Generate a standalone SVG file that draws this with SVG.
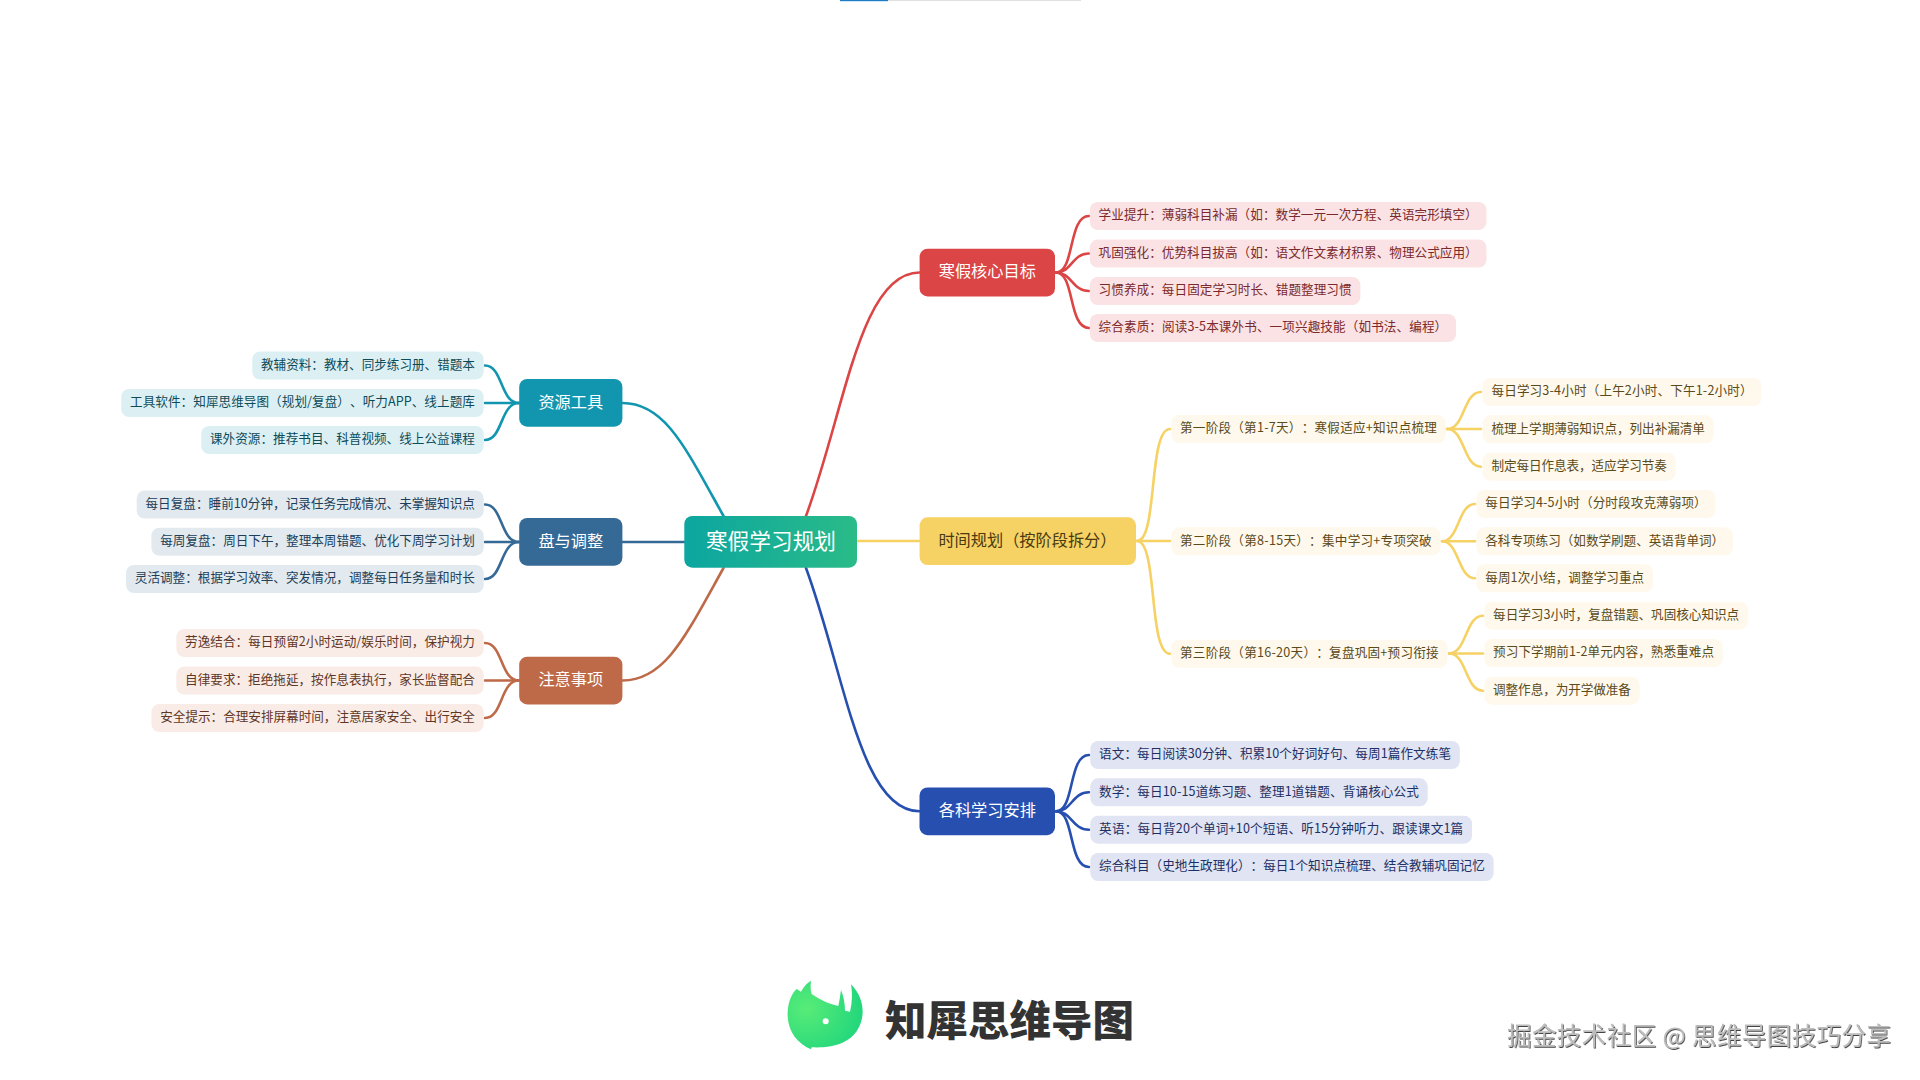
<svg xmlns="http://www.w3.org/2000/svg" width="1920" height="1080" viewBox="0 0 1920 1080">
<style>
text{font-family:"Noto Sans CJK SC","Liberation Sans",sans-serif;dominant-baseline:central;transform:translateY(-1.2px);text-spacing-trim:space-all}
.b{font-size:16.2px;text-anchor:middle;fill:#fff}
.l{font-size:12.6px}
.c{fill:none;stroke-width:2.6;stroke-linecap:round}
.tc{fill:#dcf0f4}.tc+text{fill:#0e4b58}
.sl{fill:#e2e9ef}.sl+text{fill:#203e58}
.pc{fill:#f9ece7}.pc+text{fill:#5f3626}
.rd{fill:#fbe3e5}.rd+text{fill:#7a2a2c}
.yl{fill:#fef9ec}.yl+text{fill:#5b4a1a}
.bl{fill:#e0e4f3}.bl+text{fill:#1d2f63}
</style>
<defs>
<linearGradient id="mg" x1="0" y1="0" x2="1" y2="0"><stop offset="0" stop-color="#0ca6a0"/><stop offset="1" stop-color="#2abb88"/></linearGradient>
<radialGradient id="lg" cx="0.25" cy="0.4" r="0.85"><stop offset="0" stop-color="#58ec78"/><stop offset="1" stop-color="#1cd47c"/></radialGradient>
<filter id="em" x="-5%" y="-20%" width="110%" height="140%"><feDropShadow dx="0.8" dy="1" stdDeviation="0.3" flood-color="#444"/></filter>
</defs>
<rect width="1920" height="1080" fill="#fff"/>
<rect x="840" y="0" width="241" height="1" fill="#e0e0e0"/>
<rect x="840" y="0" width="48" height="1.2" fill="#1e7fc8"/>
<g id="connectors">
<g stroke="#1296b0" class="c"><path class="c" d="M622.4,403C665,403 685,447 723.5,516"/><path class="c" d="M519,403C500,403 503,365.5 485,365.5"/><path class="c" d="M519,403H485"/><path class="c" d="M519,403C500,403 503,440 485,440"/></g>
<g stroke="#366a96"><path class="c" d="M622.4,542H684.5"/><path class="c" d="M519,542C500,542 503,504.5 485,504.5"/><path class="c" d="M519,542H485"/><path class="c" d="M519,542C500,542 503,579 485,579"/></g>
<g stroke="#be6a48"><path class="c" d="M622.4,680.5C665,680.5 685,637 723.5,568"/><path class="c" d="M519,680.5C500,680.5 503,643 485,643"/><path class="c" d="M519,680.5H485"/><path class="c" d="M519,680.5C500,680.5 503,718 485,718"/></g>
<g stroke="#db4545"><path class="c" d="M806,516C845,410 860,272.5 919.6,272.5"/><path class="c" d="M1056,272.5C1075,272.5 1068,216 1089,216"/><path class="c" d="M1056,272.5C1072,272.5 1072,253.5 1089,253.5"/><path class="c" d="M1056,272.5C1072,272.5 1072,291 1089,291"/><path class="c" d="M1056,272.5C1075,272.5 1068,328 1089,328"/></g>
<g stroke="#f6d164"><path class="c" d="M857,541H919.6"/><path class="c" d="M1137,541C1158,541 1148,429 1170,429"/><path class="c" d="M1137,541H1170"/><path class="c" d="M1137,541C1158,541 1148,653.7 1170,653.7"/><path class="c" d="M1447,429C1465,429 1463,392 1481,392"/><path class="c" d="M1447,429H1481"/><path class="c" d="M1447,429C1465,429 1463,466.7 1481,466.7"/><path class="c" d="M1442,541.3C1459,541.3 1458,504 1475,504"/><path class="c" d="M1442,541.3H1475"/><path class="c" d="M1442,541.3C1459,541.3 1458,578.3 1475,578.3"/><path class="c" d="M1449,653.5C1467,653.5 1465,615.7 1483,615.7"/><path class="c" d="M1449,653.5H1483"/><path class="c" d="M1449,653.5C1467,653.5 1465,690.7 1483,690.7"/></g>
<g stroke="#274fb0"><path class="c" d="M806,568C845,674 860,811.3 919.5,811.3"/><path class="c" d="M1056,811.3C1075,811.3 1068,755 1089,755"/><path class="c" d="M1056,811.3C1072,811.3 1072,792.3 1089,792.3"/><path class="c" d="M1056,811.3C1072,811.3 1072,829.7 1089,829.7"/><path class="c" d="M1056,811.3C1075,811.3 1068,867 1089,867"/></g>
</g>
<g id="root"><rect x="684.3" y="516" width="172.7" height="51.7" rx="8" fill="url(#mg)"/><text x="771" y="540.3" font-size="21.7" text-anchor="middle" fill="#fff">寒假学习规划</text></g>
<g id="n-res"><rect x="519.2" y="379" width="103.2" height="47.7" rx="8" fill="#1296b0"/><text class="b" x="570.8" y="402">资源工具</text></g>
<g id="n-rev"><rect x="519.2" y="518" width="103.2" height="47.7" rx="8" fill="#366a96"/><text class="b" x="570.8" y="541">盘与调整</text></g>
<g id="n-note"><rect x="519.2" y="656.7" width="103.2" height="47.7" rx="8" fill="#be6a48"/><text class="b" x="570.8" y="679.5">注意事项</text></g>
<g id="n-goal"><rect x="919.6" y="248.7" width="135.4" height="47.7" rx="8" fill="#db4545"/><text class="b" x="987.3" y="271.5">寒假核心目标</text></g>
<g id="n-time"><rect x="919.6" y="517.3" width="216.4" height="47.7" rx="8" fill="#f6d164"/><text class="b" x="938.4" y="540" style="text-anchor:start;fill:#4a3a10">时间规划（按阶段拆分）</text></g>
<g id="n-subj"><rect x="919.5" y="787.4" width="135.5" height="47.8" rx="8" fill="#274fb0"/><text class="b" x="987.3" y="810.3">各科学习安排</text></g>
<g id="res-1"><rect class="tc" x="252.2" y="351.5" width="231.5" height="28" rx="8"/><text class="l" x="261" y="364.5" textLength="213.9">教辅资料：教材、同步练习册、错题本</text></g>
<g id="res-2"><rect class="tc" x="121.2" y="389" width="362.5" height="28" rx="8"/><text class="l" x="130" y="402" textLength="344.9">工具软件：知犀思维导图（规划/复盘）、听力APP、线上题库</text></g>
<g id="res-3"><rect class="tc" x="201.2" y="426" width="282.5" height="28" rx="8"/><text class="l" x="210" y="439" textLength="264.9">课外资源：推荐书目、科普视频、线上公益课程</text></g>
<g id="rev-1"><rect class="sl" x="136.7" y="490.5" width="347" height="28" rx="8"/><text class="l" x="145.5" y="503.5" textLength="329.4">每日复盘：睡前10分钟，记录任务完成情况、未掌握知识点</text></g>
<g id="rev-2"><rect class="sl" x="151.4" y="527.7" width="332.3" height="28" rx="8"/><text class="l" x="160.2" y="540.7" textLength="314.7">每周复盘：周日下午，整理本周错题、优化下周学习计划</text></g>
<g id="rev-3"><rect class="sl" x="126" y="565" width="357.7" height="28" rx="8"/><text class="l" x="134.8" y="578" textLength="340.1">灵活调整：根据学习效率、突发情况，调整每日任务量和时长</text></g>
<g id="note-1"><rect class="pc" x="176.3" y="629" width="307.4" height="28" rx="8"/><text class="l" x="185.1" y="642" textLength="289.8">劳逸结合：每日预留2小时运动/娱乐时间，保护视力</text></g>
<g id="note-2"><rect class="pc" x="176.3" y="666.5" width="307.4" height="28" rx="8"/><text class="l" x="185.1" y="679.5" textLength="289.8">自律要求：拒绝拖延，按作息表执行，家长监督配合</text></g>
<g id="note-3"><rect class="pc" x="151.4" y="704" width="332.3" height="28" rx="8"/><text class="l" x="160.2" y="717" textLength="314.7">安全提示：合理安排屏幕时间，注意居家安全、出行安全</text></g>
<g id="goal-1"><rect class="rd" x="1089.8" y="202" width="396.7" height="28" rx="8"/><text class="l" x="1098.6" y="215" textLength="379.1">学业提升：薄弱科目补漏（如：数学一元一次方程、英语完形填空）</text></g>
<g id="goal-2"><rect class="rd" x="1089.8" y="239.5" width="396.7" height="28" rx="8"/><text class="l" x="1098.6" y="252.5" textLength="379.1">巩固强化：优势科目拔高（如：语文作文素材积累、物理公式应用）</text></g>
<g id="goal-3"><rect class="rd" x="1089.8" y="277" width="270.6" height="28" rx="8"/><text class="l" x="1098.6" y="290" textLength="253">习惯养成：每日固定学习时长、错题整理习惯</text></g>
<g id="goal-4"><rect class="rd" x="1089.8" y="314" width="366.2" height="28" rx="8"/><text class="l" x="1098.6" y="327" textLength="348.6">综合素质：阅读3-5本课外书、一项兴趣技能（如书法、编程）</text></g>
<g id="p1"><rect class="yl" x="1171.2" y="415" width="274.5" height="28" rx="8"/><text class="l" x="1180" y="428" textLength="256.9">第一阶段（第1-7天）：寒假适应+知识点梳理</text></g>
<g id="p2"><rect class="yl" x="1171.2" y="527.3" width="269.3" height="28" rx="8"/><text class="l" x="1180" y="540.3" textLength="251.7">第二阶段（第8-15天）：集中学习+专项突破</text></g>
<g id="p3"><rect class="yl" x="1171.2" y="639.7" width="276.3" height="28" rx="8"/><text class="l" x="1180" y="652.7" textLength="258.7">第三阶段（第16-20天）：复盘巩固+预习衔接</text></g>
<g id="p1-1"><rect class="yl" x="1482.6" y="378" width="278.8" height="28" rx="8"/><text class="l" x="1491.4" y="391" textLength="261.2">每日学习3-4小时（上午2小时、下午1-2小时）</text></g>
<g id="p1-2"><rect class="yl" x="1482.6" y="415.3" width="231.1" height="28" rx="8"/><text class="l" x="1491.4" y="428.3" textLength="213.5">梳理上学期薄弱知识点，列出补漏清单</text></g>
<g id="p1-3"><rect class="yl" x="1482.6" y="452.7" width="193" height="28" rx="8"/><text class="l" x="1491.4" y="465.7" textLength="175.4">制定每日作息表，适应学习节奏</text></g>
<g id="p2-1"><rect class="yl" x="1476.5" y="490" width="239" height="28" rx="8"/><text class="l" x="1485.3" y="503" textLength="221.4">每日学习4-5小时（分时段攻克薄弱项）</text></g>
<g id="p2-2"><rect class="yl" x="1476.5" y="527.3" width="256.5" height="28" rx="8"/><text class="l" x="1485.3" y="540.3" textLength="238.9">各科专项练习（如数学刷题、英语背单词）</text></g>
<g id="p2-3"><rect class="yl" x="1476.5" y="564.3" width="176.5" height="28" rx="8"/><text class="l" x="1485.3" y="577.3" textLength="158.9">每周1次小结，调整学习重点</text></g>
<g id="p3-1"><rect class="yl" x="1484.3" y="601.7" width="263.7" height="28" rx="8"/><text class="l" x="1493.1" y="614.7" textLength="246.1">每日学习3小时，复盘错题、巩固核心知识点</text></g>
<g id="p3-2"><rect class="yl" x="1484.3" y="639" width="238.5" height="28" rx="8"/><text class="l" x="1493.1" y="652" textLength="220.9">预习下学期前1-2单元内容，熟悉重难点</text></g>
<g id="p3-3"><rect class="yl" x="1484.3" y="676.7" width="155.3" height="28" rx="8"/><text class="l" x="1493.1" y="689.7" textLength="137.7">调整作息，为开学做准备</text></g>
<g id="subj-1"><rect class="bl" x="1090.3" y="741" width="369.5" height="28" rx="8"/><text class="l" x="1099.1" y="754" textLength="351.9">语文：每日阅读30分钟、积累10个好词好句、每周1篇作文练笔</text></g>
<g id="subj-2"><rect class="bl" x="1090.3" y="778.3" width="337.4" height="28" rx="8"/><text class="l" x="1099.1" y="791.3" textLength="319.8">数学：每日10-15道练习题、整理1道错题、背诵核心公式</text></g>
<g id="subj-3"><rect class="bl" x="1090.3" y="815.7" width="381.7" height="28" rx="8"/><text class="l" x="1099.1" y="828.7" textLength="364.1">英语：每日背20个单词+10个短语、听15分钟听力、跟读课文1篇</text></g>
<g id="subj-4"><rect class="bl" x="1090.3" y="853" width="403.3" height="28" rx="8"/><text class="l" x="1099.1" y="866" textLength="385.7">综合科目（史地生政理化）：每日1个知识点梳理、结合教辅巩固记忆</text></g>
<g id="logo"><path transform="translate(775,970) scale(.3333)" fill="url(#lg)" d="M108,32Q105,60 110,72Q150,100 190,108Q195,85 198,60Q210,90 210,122L225,125Q235,85 228,43C270,85 270,140 250,175C225,225 160,235 110,232L108,238C65,220 35,180 38,125C40,95 50,70 65,57L78,65Q90,42 108,32Z"/><circle cx="825.7" cy="1021.3" r="3" fill="#fff"/></g>
<text x="885" y="1019" font-size="41.5" font-weight="900" fill="#333">知犀思维导图</text>
<text x="1507" y="1036" font-size="24.5" textLength="384" fill="#bdbdbd" filter="url(#em)">掘金技术社区 @ 思维导图技巧分享</text>
</svg>
